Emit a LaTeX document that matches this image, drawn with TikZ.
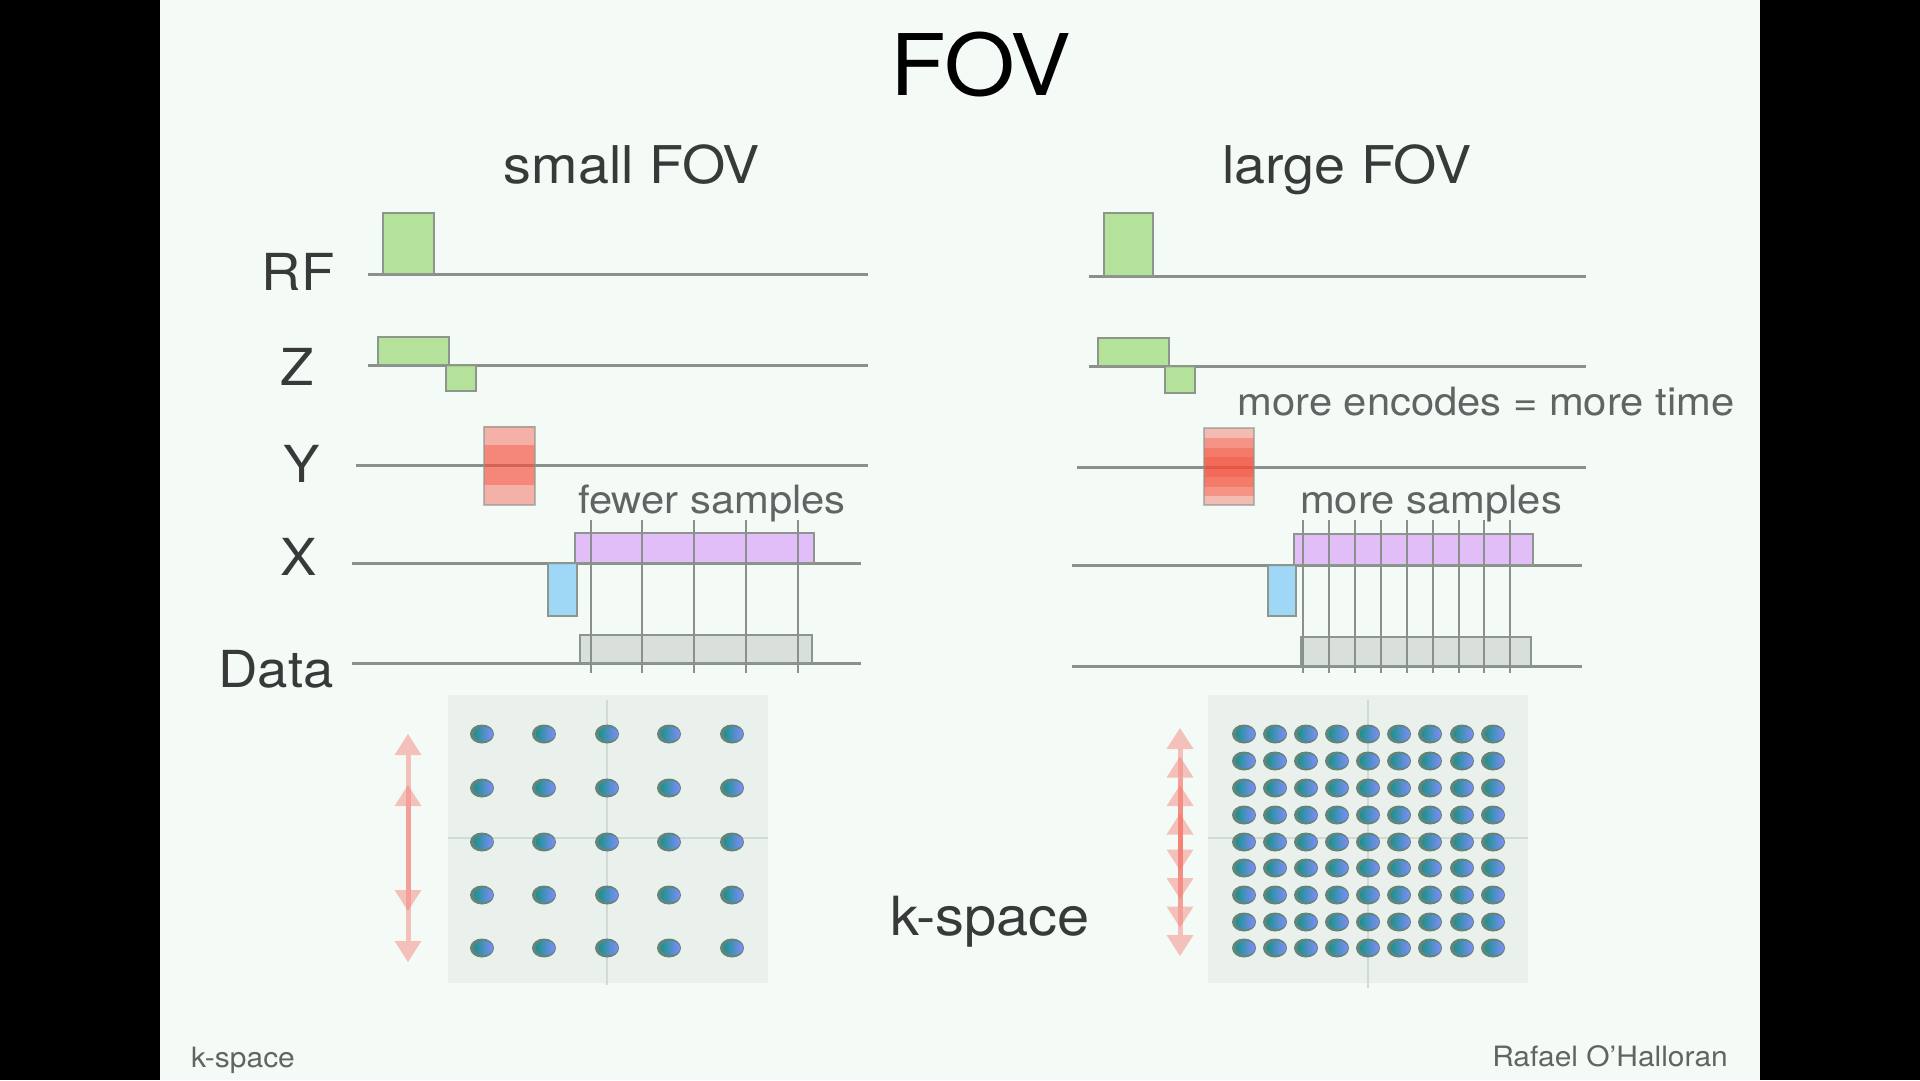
\documentclass[tikz,border=0pt]{standalone}
\usepackage{fontspec}
\setmainfont{TeX Gyre Heros}[FakeStretch=1.07]
\usetikzlibrary{arrows.meta}

\definecolor{slidebg}{RGB}{244,250,246}
\definecolor{axisgray}{RGB}{138,144,140}
\definecolor{edgegray}{RGB}{140,150,140}
\definecolor{labelgray}{RGB}{55,58,56}
\definecolor{notegray}{RGB}{96,100,98}
\definecolor{pulsegreen}{RGB}{170,222,138}
\definecolor{pered}{RGB}{245,78,58}
\definecolor{preblue}{RGB}{150,212,248}
\definecolor{readpurple}{RGB}{222,180,248}
\definecolor{datagray}{RGB}{200,205,201}
\definecolor{kbox}{RGB}{234,241,237}
\definecolor{kcross}{RGB}{210,218,214}
\definecolor{dotrim}{RGB}{100,132,122}
\definecolor{dotteal}{RGB}{28,146,140}
\definecolor{dotblue}{RGB}{128,140,252}
\definecolor{arrowpink}{RGB}{245,115,105}

\tikzset{
  axisline/.style={draw=axisgray, line width=3pt},
  samplemark/.style={draw=axisgray, line width=2pt},
  greenlobe/.style={fill=pulsegreen, draw=edgegray, line width=1.2pt, fill opacity=0.85},
  pelobe/.style={fill=pered, fill opacity=0.42},
  peedge/.style={draw=edgegray, line width=1.2pt, draw opacity=0.6},
  prephase/.style={fill=preblue, draw=edgegray, line width=1.2pt, fill opacity=0.9},
  readout/.style={fill=readpurple, draw=edgegray, line width=1.2pt, fill opacity=0.85},
  adcwin/.style={fill=datagray, draw=edgegray, line width=1.2pt, fill opacity=0.6},
  titletext/.style={font=\fontsize{85}{90}\selectfont, text=black, inner sep=0pt, anchor=base},
  headtext/.style={font=\fontsize{52}{56}\selectfont, text=labelgray, inner sep=0pt, anchor=base},
  axislabel/.style={font=\fontsize{51}{56}\selectfont, text=labelgray, inner sep=0pt, anchor=base},
  notetext/.style={font=\fontsize{39}{44}\selectfont, text=notegray, inner sep=0pt, anchor=base},
  foottext/.style={font=\fontsize{28}{30}\selectfont, text=notegray, inner sep=0pt, anchor=base},
  kframe/.style={fill=kbox},
  kaxis/.style={draw=kcross, line width=1.5pt},
  gradarrow/.style={draw=arrowpink, line width=5pt, draw opacity=0.42, fill opacity=0.42,
    {Triangle[width=27pt,length=21pt,fill=arrowpink,line width=0pt]}-{Triangle[width=27pt,length=21pt,fill=arrowpink,line width=0pt]}}
}

% one k-space sample: grey-green rim with a teal-to-blue core
\newcommand{\ksample}[2]{%
  \fill[dotrim] (#1,#2) ellipse [x radius=12, y radius=9.5];
  \shade[left color=dotteal, right color=dotblue] ({#1+1.5},#2) ellipse [x radius=9.5, y radius=7.2];
}

\begin{document}
\begin{tikzpicture}[x=1pt,y=-1pt]
\useasboundingbox (0,0) rectangle (1920,1080);
\fill[black] (0,0) rectangle (1920,1080);
\fill[slidebg] (160,0) rectangle (1760,1080);

% headings
\node[titletext] (title) at (981,95) {FOV};
\node[headtext] (smallhead) at (632,183) {small FOV};
\node[headtext] (largehead) at (1347,183) {large FOV};

% channel labels
\node[axislabel] (lblrf) at (298,290) {RF};
\node[axislabel] (lblz) at (297,385) {Z};
\node[axislabel] (lbly) at (302,482) {Y};
\node[axislabel] (lblx) at (299,575) {X};
\node[axislabel] (lbldata) at (276,687) {Data};

% ---------- small FOV sequence ----------
\draw[axisline] (368,274) -- (868,274);
\draw[axisline] (368,365) -- (868,365);
\draw[axisline] (356,465) -- (868,465);
\draw[axisline] (352,563) -- (861,563);
\draw[axisline] (352,663) -- (861,663);

\filldraw[greenlobe] (383,274) rectangle (434,213);
\filldraw[greenlobe] (378,365) rectangle (449,337);
\filldraw[greenlobe] (446,365) rectangle (476,391);

\foreach \h in {39,20,-20,-40} \fill[pelobe] (484,465) rectangle (535,{465-\h});
\draw[peedge] (484,427) rectangle (535,505);

\filldraw[prephase] (548,563) rectangle (577,616);
\filldraw[readout] (575,533) rectangle (814,563);
\filldraw[adcwin] (580,635) rectangle (812,663);
\foreach \sx in {591,642,694,746,798} \draw[samplemark] (\sx,520) -- (\sx,673);

\node[notetext] (fewer) at (712,513) {fewer samples};

% ---------- large FOV sequence ----------
\draw[axisline] (1089,276) -- (1586,276);
\draw[axisline] (1089,366) -- (1586,366);
\draw[axisline] (1077,467) -- (1586,467);
\draw[axisline] (1072,565) -- (1582,565);
\draw[axisline] (1072,666) -- (1582,666);

\filldraw[greenlobe] (1104,276) rectangle (1153,213);
\filldraw[greenlobe] (1098,366) rectangle (1169,338);
\filldraw[greenlobe] (1165,366) rectangle (1195,393);

\foreach \h in {39,29.25,19.5,9.75,-9.75,-19.5,-29.25,-38} \fill[pelobe, fill opacity=0.36] (1204,467) rectangle (1254,{467-\h});
\draw[peedge] (1204,428) rectangle (1254,505);

\filldraw[prephase] (1268,565) rectangle (1296,616);
\filldraw[readout] (1294,534) rectangle (1533,565);
\filldraw[adcwin] (1301,637) rectangle (1531,666);
\foreach \sx in {1303,1329,1355,1381,1407,1433,1459,1484,1510} \draw[samplemark] (\sx,520) -- (\sx,673);

\node[notetext] (moreenc) at (1486,415) {more encodes = more time};
\node[notetext] (moresamp) at (1431,513) {more samples};

% ---------- k-space, small FOV ----------
\fill[kframe] (448,695) rectangle (768,983);
\draw[kaxis] (607,700) -- (607,985);
\draw[kaxis] (448,838) -- (768,838);
\foreach \kx in {482,544,607,669,732}
  \foreach \ky in {734,788,842,895,948}
    {\ksample{\kx}{\ky}}
\foreach \hl [count=\i] in {114,63} {
  \coordinate (su\i) at (408,{848-\hl});
  \coordinate (sd\i) at (408,{848+\hl});
  \draw[gradarrow] (sd\i) -- (su\i);
}

% ---------- k-space, large FOV ----------
\fill[kframe] (1208,695) rectangle (1528,983);
\draw[kaxis] (1368,700) -- (1368,988);
\draw[kaxis] (1208,838) -- (1528,838);
\foreach \kx in {1244,1275,1306,1337,1368,1399,1430,1462,1493}
  \foreach \ky in {734,761,788,815,842,868,895,922,948}
    {\ksample{\kx}{\ky}}
\foreach \hl [count=\i] in {114,85.5,57,28.5} {
  \coordinate (lu\i) at (1180,{842-\hl});
  \coordinate (ld\i) at (1180,{842+\hl});
  \draw[gradarrow] (ld\i) -- (lu\i);
}

\node[headtext, font=\fontsize{54}{58}\selectfont] (kspace) at (990,935) {k-space};

% footer
\node[foottext, anchor=base west] (footl) at (191,1067) {k-space};
\node[foottext, anchor=base east] (footr) at (1728,1066) {Rafael O’Halloran};
\end{tikzpicture}
\end{document}
